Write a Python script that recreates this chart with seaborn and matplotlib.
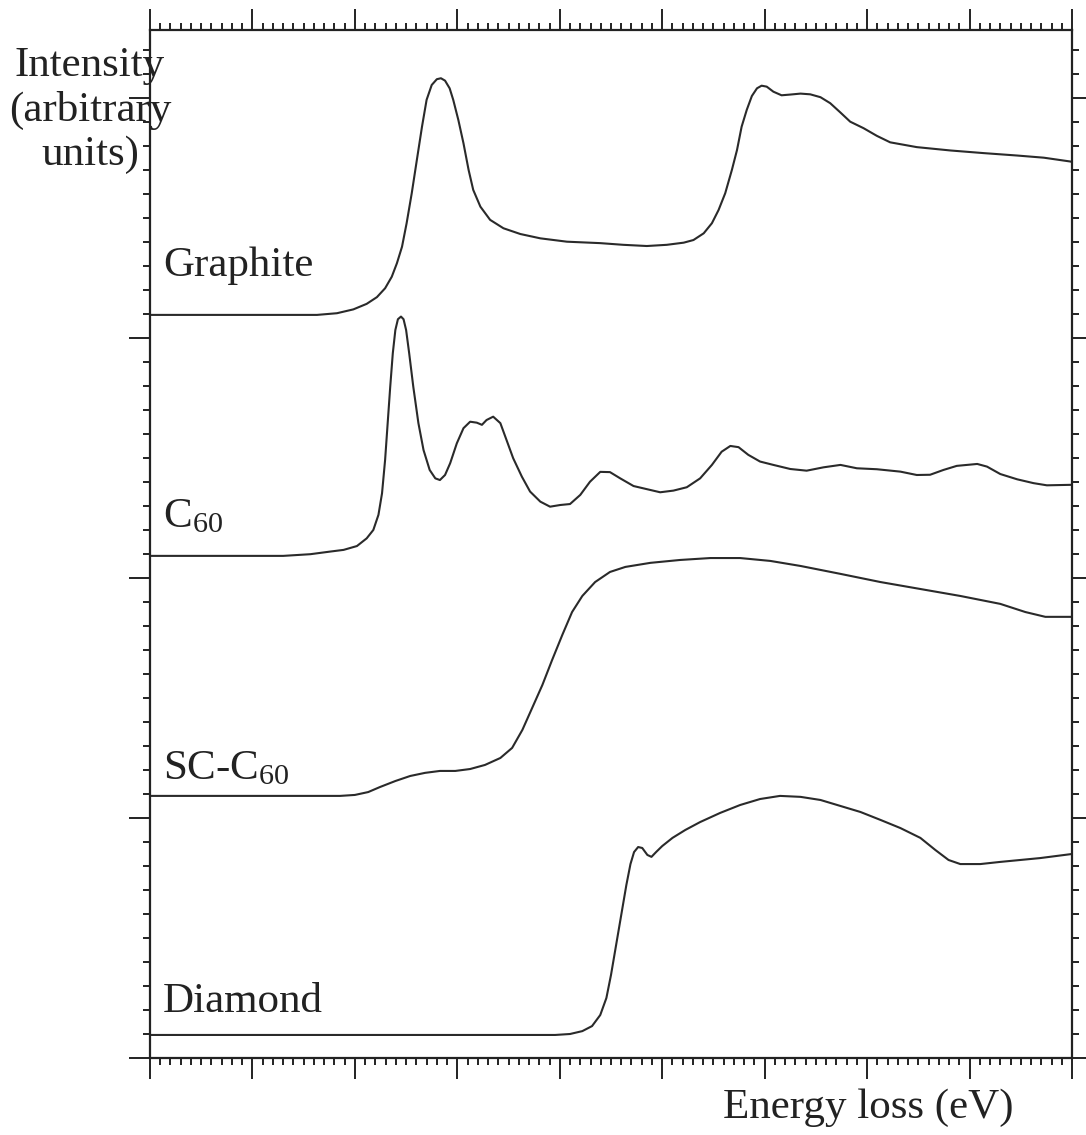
import numpy as np
import pandas as pd
import matplotlib
matplotlib.use("Agg")
import matplotlib.pyplot as plt
from matplotlib.ticker import MultipleLocator
import seaborn as sns

# ---------------- data ----------------
graphite_e = [280.00, 283.26, 283.65, 283.97, 284.23, 284.43, 284.59, 284.72, 284.82, 284.92,
              285.01, 285.11, 285.21, 285.31, 285.40, 285.50, 285.60, 285.68, 285.76, 285.85,
              285.92, 286.02, 286.12, 286.22, 286.31, 286.45, 286.64, 286.90, 287.23, 287.62,
              288.14, 288.79, 289.24, 289.70, 290.09, 290.42, 290.61, 290.81, 290.97, 291.10,
              291.23, 291.36, 291.46, 291.55, 291.65, 291.75, 291.85, 291.94, 292.04, 292.17,
              292.33, 292.50, 292.70, 292.89, 293.09, 293.28, 293.48, 293.67, 293.93, 294.19,
              294.45, 294.97, 295.63, 296.28, 296.93, 297.45, 297.97, 298.00]
graphite_i = [3.096, 3.096, 3.103, 3.119, 3.142, 3.170, 3.207, 3.255, 3.311, 3.380,
              3.478, 3.603, 3.742, 3.880, 3.992, 4.054, 4.078, 4.082, 4.072, 4.040,
              3.992, 3.908, 3.811, 3.700, 3.617, 3.547, 3.492, 3.457, 3.433, 3.415,
              3.401, 3.395, 3.388, 3.383, 3.388, 3.397, 3.408, 3.436, 3.478, 3.533,
              3.603, 3.700, 3.783, 3.880, 3.950, 4.008, 4.040, 4.051, 4.047, 4.026,
              4.011, 4.014, 4.018, 4.015, 4.003, 3.978, 3.939, 3.901, 3.874, 3.842,
              3.815, 3.795, 3.781, 3.770, 3.760, 3.751, 3.735, 3.733]

c60_e = [280.00, 282.60, 283.13, 283.52, 283.78, 284.04, 284.23, 284.36, 284.46, 284.53,
         284.59, 284.64, 284.69, 284.74, 284.79, 284.84, 284.90, 284.95, 285.00, 285.06,
         285.14, 285.24, 285.34, 285.46, 285.57, 285.66, 285.76, 285.86, 285.99, 286.12,
         286.25, 286.38, 286.48, 286.57, 286.70, 286.84, 286.96, 287.09, 287.26, 287.42,
         287.62, 287.81, 288.01, 288.20, 288.40, 288.59, 288.79, 288.98, 289.18, 289.44,
         289.70, 289.96, 290.22, 290.48, 290.74, 290.97, 291.16, 291.33, 291.49, 291.68,
         291.91, 292.17, 292.50, 292.82, 293.15, 293.48, 293.80, 294.19, 294.65, 294.97,
         295.23, 295.49, 295.75, 296.15, 296.34, 296.60, 296.93, 297.25, 297.51, 297.97,
         298.00]
c60_i = [2.092, 2.092, 2.099, 2.110, 2.117, 2.133, 2.165, 2.200, 2.263, 2.353,
         2.492, 2.645, 2.797, 2.936, 3.033, 3.078, 3.089, 3.078, 3.033, 2.936,
         2.797, 2.645, 2.533, 2.450, 2.415, 2.408, 2.429, 2.478, 2.561, 2.624,
         2.651, 2.647, 2.638, 2.658, 2.672, 2.645, 2.575, 2.499, 2.422, 2.360,
         2.318, 2.297, 2.304, 2.308, 2.346, 2.401, 2.442, 2.441, 2.415, 2.383,
         2.370, 2.357, 2.364, 2.378, 2.415, 2.471, 2.526, 2.550, 2.545, 2.513,
         2.485, 2.471, 2.454, 2.447, 2.461, 2.471, 2.457, 2.453, 2.443, 2.429,
         2.430, 2.450, 2.467, 2.475, 2.464, 2.433, 2.411, 2.395, 2.386, 2.388,
         2.388]

scc60_e = [280.00, 283.71, 284.00, 284.26, 284.49, 284.79, 285.08, 285.37, 285.66, 285.96,
           286.25, 286.54, 286.84, 287.07, 287.27, 287.46, 287.66, 287.85, 288.05, 288.24,
           288.44, 288.69, 288.98, 289.28, 289.77, 290.35, 290.94, 291.52, 292.11, 292.70,
           293.48, 294.26, 295.04, 295.82, 296.60, 297.09, 297.48, 298.00]
scc60_i = [1.092, 1.092, 1.096, 1.108, 1.129, 1.154, 1.175, 1.188, 1.196, 1.196,
           1.204, 1.221, 1.250, 1.292, 1.367, 1.458, 1.554, 1.658, 1.763, 1.858,
           1.925, 1.983, 2.025, 2.046, 2.063, 2.075, 2.083, 2.083, 2.071, 2.050,
           2.017, 1.983, 1.954, 1.925, 1.892, 1.858, 1.838, 1.838]

diamond_e = [280.00, 287.91, 288.20, 288.44, 288.63, 288.79, 288.91, 289.00, 289.10, 289.20,
             289.30, 289.38, 289.45, 289.53, 289.61, 289.71, 289.79, 289.88, 290.00, 290.20,
             290.45, 290.74, 291.13, 291.52, 291.91, 292.30, 292.70, 293.09, 293.48, 293.87,
             294.26, 294.65, 295.04, 295.33, 295.59, 295.82, 296.21, 296.60, 297.38, 298.00]
diamond_i = [0.096, 0.096, 0.100, 0.112, 0.133, 0.179, 0.250, 0.346, 0.471, 0.596,
             0.721, 0.808, 0.858, 0.879, 0.875, 0.846, 0.838, 0.858, 0.883, 0.917,
             0.950, 0.983, 1.021, 1.054, 1.079, 1.092, 1.088, 1.075, 1.050, 1.025,
             0.992, 0.958, 0.917, 0.867, 0.825, 0.808, 0.808, 0.817, 0.833, 0.850]

labels = ["Graphite", "C$_{60}$", "SC-C$_{60}$", "Diamond"]
label_y = [3.26, 2.21, 1.16, 0.19]

# ---------------- plotting ----------------
sns.set_style("ticks")
plt.rcParams["font.family"] = ["Liberation Serif", "DejaVu Serif"]
plt.rcParams["mathtext.fontset"] = "custom"
plt.rcParams["mathtext.rm"] = "Liberation Serif"
plt.rcParams["mathtext.it"] = "Liberation Serif"

fig = plt.figure(figsize=(10.86, 11.35), dpi=100)
ax = fig.add_axes([150 / 1086, 77 / 1135, 922 / 1086, 1028 / 1135])

line_color = "#2a2a2a"
series = [(graphite_e, graphite_i), (c60_e, c60_i), (scc60_e, scc60_i), (diamond_e, diamond_i)]
for e, i in series:
    df = pd.DataFrame({"E": e, "I": i})
    sns.lineplot(data=df, x="E", y="I", ax=ax, color=line_color, linewidth=1.5,
                 solid_joinstyle="round", solid_capstyle="round")

for lab, ly in zip(labels, label_y):
    ax.text(280.25, ly, lab, fontsize=31, color="#222222", ha="left", va="baseline")

ax.set_xlim(280, 298)
ax.set_ylim(0, 4.283)
ax.xaxis.set_major_locator(MultipleLocator(2))
ax.xaxis.set_minor_locator(MultipleLocator(0.2))
ax.yaxis.set_major_locator(MultipleLocator(1))
ax.yaxis.set_minor_locator(MultipleLocator(0.1))
ax.tick_params(which="both", direction="out", top=True, right=True,
               labelbottom=False, labelleft=False, color="#222222", width=1.4)
ax.tick_params(which="major", length=15)
ax.tick_params(which="minor", length=5)
for sp in ax.spines.values():
    sp.set_linewidth(1.6)
    sp.set_color("#222222")
ax.set_xlabel("")
ax.set_ylabel("")

fig.text(90 / 1086, 1 - 110 / 1135, "Intensity\n(arbitrary\nunits)", fontsize=31,
         ha="center", va="center", linespacing=1.2, color="#222222")
fig.text(868 / 1086, 1 - 1108 / 1135, "Energy loss (eV)", fontsize=31,
         ha="center", va="center", color="#222222")

fig.savefig("out.png", dpi=100)
